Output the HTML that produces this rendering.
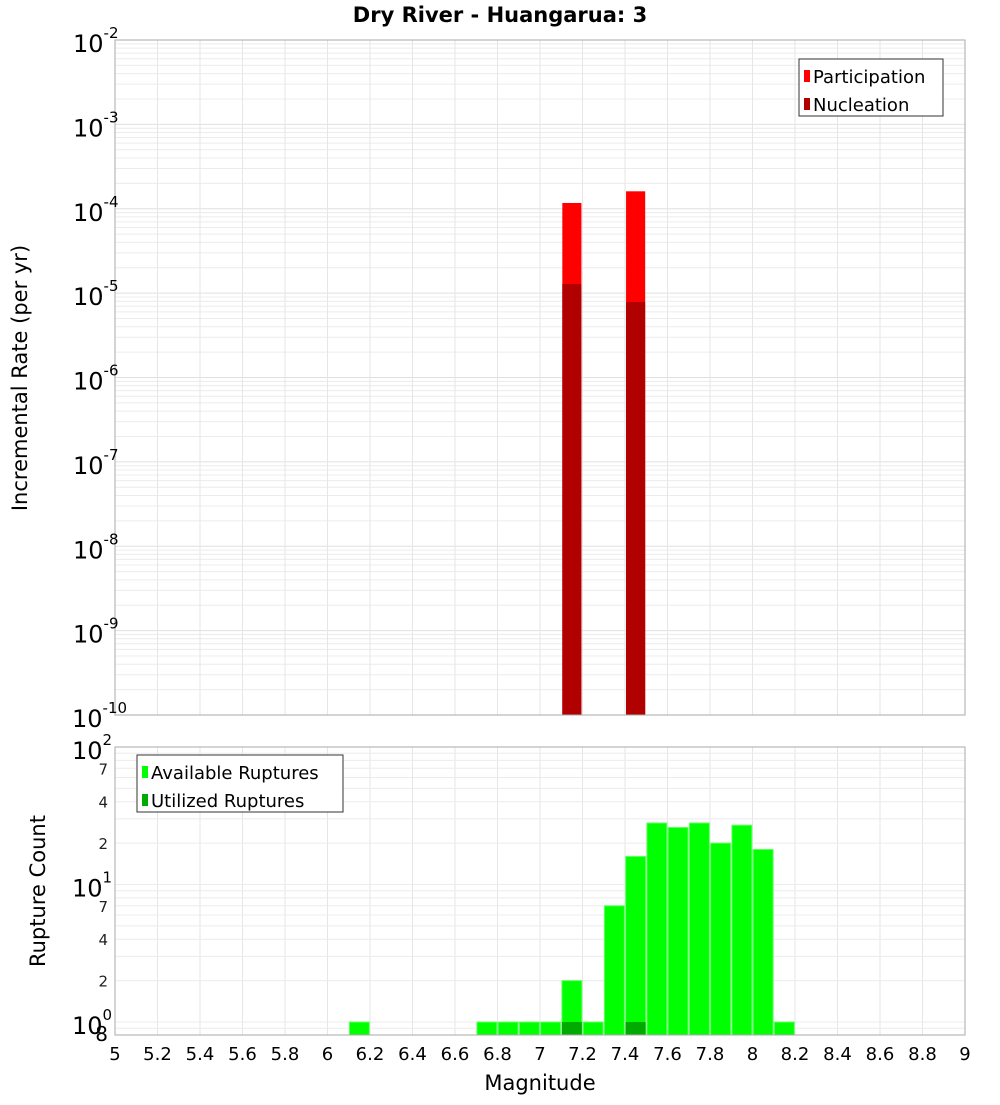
<!DOCTYPE html>
<html><head><meta charset="utf-8"><style>
body{margin:0;background:#fff;font-family:"Liberation Sans","DejaVu Sans",sans-serif}
svg text{font-family:"DejaVu Sans","Liberation Sans",sans-serif}
</style></head><body>
<svg id="c" width="1000" height="1100" xmlns="http://www.w3.org/2000/svg">
<rect width="1000" height="1100" fill="#fff"/>
<text x="500" y="22" text-anchor="middle" font-size="21" font-weight="bold">Dry River - Huangarua: 3</text>
<g id="gTop"></g><g id="gBot"></g>
<text x="540" y="1090" text-anchor="middle" font-size="21">Magnitude</text>
<text transform="translate(27,378) rotate(-90)" text-anchor="middle" font-size="21">Incremental Rate (per yr)</text>
<text transform="translate(45,891) rotate(-90)" text-anchor="middle" font-size="21">Rupture Count</text>
</svg>
<script>
const rateMags=[7.15,7.45];
const participation=[1.17e-4,1.61e-4];
const nucleation=[1.28e-5,7.85e-6];
const countMags=[6.15,6.75,6.85,6.95,7.05,7.15,7.25,7.35,7.45,7.55,7.65,7.75,7.85,7.95,8.05,8.15];
const available=[1,1,1,1,1,2,1,7,16,28,26,28,20,27,18,1];
const utilMags=[7.15,7.45];
const utilized=[1,1];
const xTicks=[5,5.2,5.4,5.6,5.8,6,6.2,6.4,6.6,6.8,7,7.2,7.4,7.6,7.8,8,8.2,8.4,8.6,8.8,9];
const topExps=[-2,-3,-4,-5,-6,-7,-8,-9,-10];
const botMinor=[7,4,2];

const NS="http://www.w3.org/2000/svg";
function mk(p,t,a){const e=document.createElementNS(NS,t);for(const k in a)e.setAttribute(k,a[k]);p.appendChild(e);return e;}
const X0=115,X1=965;
const x=m=>X0+(m-5)/4*(X1-X0);
const T0=40,T1=715;
const yt=v=>T0+(-2-Math.log10(v))/8*(T1-T0);
const B0=747,B10=1022,B1=1035;
const yb=v=>B10-Math.log10(v)*(B10-B0)/2;
const gTop=document.getElementById('gTop'),gBot=document.getElementById('gBot');

for(let e=-10;e<-2;e++)for(let k=1;k<10;k++){const y=yt(k*Math.pow(10,e));
 const l=mk(gTop,'line',{x1:X0,x2:X1,y1:y,y2:y,stroke:k==1?'#e0e0e0':'#ececec','stroke-width':1});
 
 }
for(let m=5;m<=9.001;m+=0.2){const l=mk(gTop,'line',{x1:x(m),x2:x(m),y1:T0,y2:T1,stroke:'#e6e6e6'});
 
 }
for(let m=5;m<=9.001;m+=0.2){const l=mk(gBot,'line',{x1:x(m),x2:x(m),y1:B0,y2:B1,stroke:'#e6e6e6'});
 
 }
for(let e=-1;e<2;e++)for(let k=1;k<10;k++){const v=k*Math.pow(10,e);const y=yb(v);if(y>B1||y<B0)continue;
 const l=mk(gBot,'line',{x1:X0,x2:X1,y1:y,y2:y,stroke:'#ececec'});
 
 }

rateMags.forEach((m,i)=>{
 const w=x(m+0.045)-x(m-0.045);
 let r=mk(gTop,'rect',{x:x(m-0.045),y:yt(participation[i]),width:w,height:T1-yt(participation[i]),fill:'#ff0000'});
 
 
 r=mk(gTop,'rect',{x:x(m-0.045),y:yt(nucleation[i]),width:w,height:T1-yt(nucleation[i]),fill:'#b00000'});
 
 
});
let f=mk(gTop,'rect',{x:X0,y:T0,width:X1-X0,height:T1-T0,fill:'none',stroke:'#aaa'});


topExps.forEach(e=>{const y=yt(Math.pow(10,e));
 const t=mk(gTop,'text',{x:e==-10?72:73,y:y+12,'font-size':24});
 
 
 t.textContent='10';const s=mk(t,'tspan',{dy:-14,'font-size':15});s.textContent=String(e);});

countMags.forEach((m,i)=>{const y=yb(available[i]);
 const r=mk(gBot,'rect',{x:x(m-0.047),y:y,width:x(m+0.047)-x(m-0.047),height:B1-y,fill:'#00ff00',stroke:'#66ff66','stroke-width':1});
 
 });
utilMags.forEach((m,i)=>{const y=yb(utilized[i]);
 const r=mk(gBot,'rect',{x:x(m-0.047),y:y,width:x(m+0.047)-x(m-0.047),height:B1-y,fill:'#00aa00'});
 
 });
f=mk(gBot,'rect',{x:X0,y:B0,width:X1-X0,height:B1-B0,fill:'none',stroke:'#aaa'});


[2,1,0].forEach(e=>{const y=yb(Math.pow(10,e));
 const t=mk(gBot,'text',{x:72,y:y+12,'font-size':24});
 
 
 t.textContent='10';const s=mk(t,'tspan',{dy:-14,'font-size':15});s.textContent=String(e);});
[1,0].forEach(e=>botMinor.forEach(k=>{const y=yb(k*Math.pow(10,e));
 const t=mk(gBot,'text',{x:108,y:y+6,'font-size':15,'text-anchor':'end',fill:'#222'});
 
 
 t.textContent=k;}));
let t8=mk(gBot,'text',{x:108,y:1041,'font-size':20,'text-anchor':'end'});


t8.textContent='8';

xTicks.forEach(m=>{const t=mk(gBot,'text',{x:x(m),y:1060,'font-size':18,'text-anchor':'middle'});
 
 
 t.textContent=String(m);});

function legend(g,x0,y0,w,items,name){
 const b=mk(g,'rect',{x:x0,y:y0,width:w,height:57,fill:'#fff',stroke:'#333'});
 
 
 items.forEach((it,i)=>{const r=mk(g,'rect',{x:x0+5,y:y0+11+i*28,width:6,height:12,fill:it[1]});
  
  
  const t=mk(g,'text',{x:x0+14,y:y0+24+i*28,'font-size':18});
  
  
  t.textContent=it[0];});
}
legend(gTop,799,59,144,[['Participation','#ff0000'],['Nucleation','#b00000']],'top-legend');
legend(gBot,137,755,206,[['Available Ruptures','#00ff00'],['Utilized Ruptures','#00aa00']],'bottom-legend');
</script>
</body></html>
